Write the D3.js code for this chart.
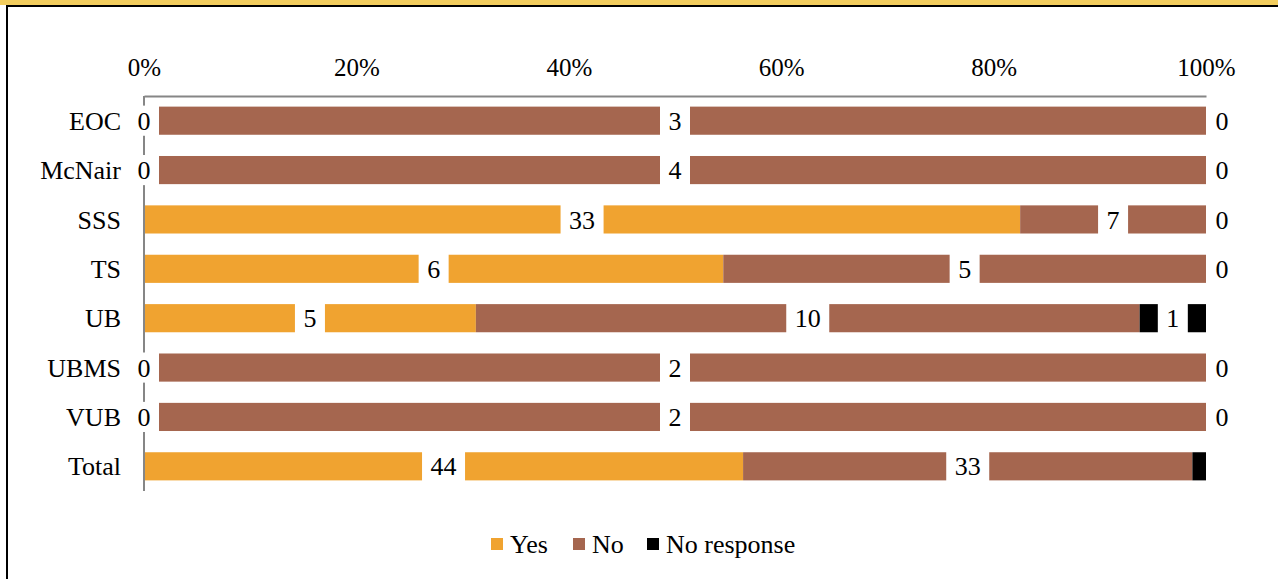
<!DOCTYPE html>
<html>
<head>
<meta charset="utf-8">
<script src="https://cdnjs.cloudflare.com/ajax/libs/d3/7.8.5/d3.min.js"></script>
<style>
  body { margin: 0; background: #fff; }
</style>
</head>
<body>
<svg id="chart" width="1278" height="579"></svg>
<script>
// chart data
var categories = ["EOC", "McNair", "SSS", "TS", "UB", "UBMS", "VUB", "Total"];
var seriesNames = ["Yes", "No", "No response"];
var yesValues = [0, 0, 33, 6, 5, 0, 0, 44];
var noValues = [3, 4, 7, 5, 10, 2, 2, 33];
var noResponseValues = [0, 0, 0, 0, 1, 0, 0, 1];
var tickValues = [0, 0.2, 0.4, 0.6, 0.8, 1];
var colors = ["#F0A330", "#A5664F", "#000000"];
// rows whose "No response" value has no data label
var unlabelled = ["Total"];

var FONT = "'Liberation Serif'";
var svg = d3.select("#chart");
var W = 1278, H = 579;

// frame: yellow strip and black border
svg.append("rect").attr("x", 0).attr("y", 0).attr("width", W).attr("height", 5).attr("fill", "#F2CD5E");
svg.append("rect").attr("x", 6).attr("y", 5).attr("width", W - 6).attr("height", 2).attr("fill", "#000");
svg.append("rect").attr("x", 6).attr("y", 5).attr("width", 2).attr("height", H - 5).attr("fill", "#000");

var rows = categories.map(function(c, i) {
    return { name: c, Yes: yesValues[i], No: noValues[i], "No response": noResponseValues[i] };
});
rows.forEach(function(r) {
    var total = r.Yes + r.No + r["No response"];
    seriesNames.forEach(function(s) { r[s + "_p"] = r[s] / total; });
});

var stack = d3.stack()
    .keys(seriesNames.map(function(s) { return s + "_p"; }));
var stacked = stack(rows);

var x = d3.scaleLinear().domain([0, 1]).range([144, 1206]);
var y = d3.scaleBand().domain(categories).range([96, 491]).paddingInner(0.43).paddingOuter(0.215);

// top axis (labels only, no ticks)
var xAxis = d3.axisTop(x).tickValues(tickValues).tickFormat(d3.format(".0%")).tickSize(0).tickPadding(20);
var gx = svg.append("g").attr("transform", "translate(0,96)").call(xAxis);
gx.select(".domain").attr("stroke", "#868686").attr("stroke-width", 2);
gx.selectAll("text")
    .style("font-family", FONT)
    .style("font-size", "25px")
    .attr("fill", "#000");

// bars
var layers = svg.selectAll(".layer")
    .data(stacked)
    .join("g")
    .attr("class", "layer")
    .attr("fill", function(d, i) { return colors[i]; });

layers.selectAll("rect")
    .data(function(d) { return d; })
    .join("rect")
    .attr("x", function(d) { return x(d[0]); })
    .attr("y", function(d) { return y(d.data.name); })
    .attr("width", function(d) { return x(d[1]) - x(d[0]); })
    .attr("height", y.bandwidth());

// left axis line
svg.append("line")
    .attr("x1", 144).attr("x2", 144).attr("y1", 96).attr("y2", 491)
    .attr("stroke", "#868686").attr("stroke-width", 2);

// category labels
svg.selectAll(".cat")
    .data(categories)
    .join("text")
    .attr("class", "cat")
    .attr("x", 121)
    .attr("y", function(d) { return y(d) + y.bandwidth() / 2; })
    .attr("dy", "0.35em")
    .attr("text-anchor", "end")
    .style("font-family", FONT)
    .style("font-size", "26px")
    .text(function(d) { return d; });

// data labels with white boxes
var labels = [];
stacked.forEach(function(layer, si) {
    var key = seriesNames[si];
    layer.forEach(function(d) {
        var v = d.data[key];
        var lx = (x(d[0]) + x(d[1])) / 2;
        if (si === seriesNames.length - 1) {
            if (unlabelled.indexOf(d.data.name) >= 0) return;
            if (v === 0) lx = x(1) + 16;
        }
        if (v === 0 && si === 1) return;
        labels.push({ x: lx, y: y(d.data.name) + y.bandwidth() / 2, text: String(v) });
    });
});

var lab = svg.selectAll(".lab")
    .data(labels)
    .join("g")
    .attr("class", "lab")
    .attr("transform", function(d) { return "translate(" + d.x + "," + d.y + ")"; });

lab.append("rect")
    .attr("x", function(d) { return -(d.text.length * 13 + 17) / 2; })
    .attr("y", -y.bandwidth() / 2 - 1)
    .attr("width", function(d) { return d.text.length * 13 + 17; })
    .attr("height", y.bandwidth() + 2)
    .attr("fill", "#fff");

lab.append("text")
    .attr("text-anchor", "middle")
    .attr("dy", "0.35em")
    .style("font-family", FONT)
    .style("font-size", "26px")
    .text(function(d) { return d.text; });

// legend
var legendX = [491, 573, 647];
var legend = svg.selectAll(".legend-item")
    .data(seriesNames)
    .join("g")
    .attr("class", "legend-item")
    .attr("transform", function(d, i) { return "translate(" + legendX[i] + ",538)"; });

legend.append("rect")
    .attr("width", 12).attr("height", 12)
    .attr("fill", function(d, i) { return colors[i]; });

legend.append("text")
    .attr("x", 19)
    .attr("y", 6)
    .attr("dy", "0.35em")
    .style("font-family", FONT)
    .style("font-size", "26px")
    .text(function(d) { return d; });
</script>
</body>
</html>
